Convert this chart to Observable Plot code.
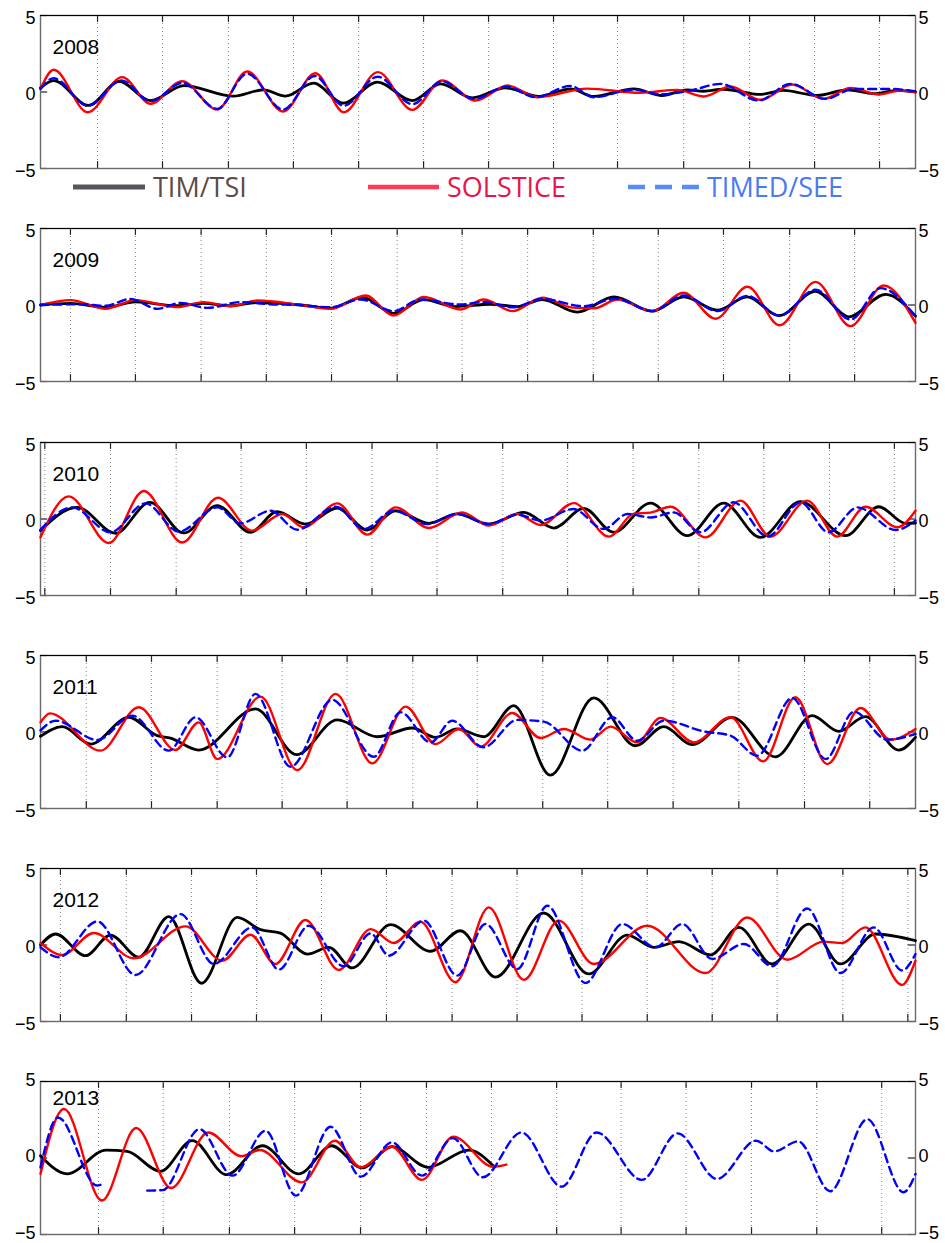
<!DOCTYPE html>
<html><head><meta charset="utf-8">
<script src="https://cdn.jsdelivr.net/npm/d3@7"></script>
<script src="https://cdn.jsdelivr.net/npm/@observablehq/plot@0.6"></script>
<style>
body{margin:0;background:#fff;}
#wrap{position:relative;width:945px;height:1243px;overflow:hidden;background:#fff;}
.panel{position:absolute;left:0;}
#legend{position:absolute;left:0;top:160px;}
</style></head><body><div id="wrap"></div>
<script>
// ---- data: x = day of year, y = filtered irradiance anomaly ----
const years = [2008, 2009, 2010, 2011, 2012, 2013];
const yTicks = [-5, 0, 5];
const yTickLabels = ["\u22125", "0", "5"];
const seriesNames = ["TIM/TSI", "SOLSTICE", "TIMED/SEE"];

// Carrington-rotation grid lines (day of year)
const ticks2008 = [23.8,50.9,78.4,105.5,132.7,159.8,186.9,214.0,240.7,268.3,295.8,322.9,350.0];
const ticks2009 = [12.5,39.6,67.0,94.2,121.4,148.8,175.9,203.2,230.6,257.7,284.9,312.5,339.6];
const ticks2010 = [1.8,29.2,56.6,83.7,110.9,138.3,165.4,192.8,219.9,247.2,274.6,301.7,329.1,356.2];
const ticks2011 = [19.1,46.3,73.7,100.8,127.9,155.3,182.2,209.5,236.6,263.9,291.3,318.7,345.9];
const ticks2012 = [8.3,35.8,63.0,90.1,117.2,144.3,171.7,198.8,225.9,253.1,280.2,307.3,334.7,361.8];
const ticks2013 = [24.2,51.2,78.8,106.0,133.5,161.0,188.1,215.3,242.2,269.3,296.6,323.8,350.9];

const tsi2008 = [[0,0.27],[5.4,0.75],[20.1,-0.88],[32.7,0.69],[45.9,-0.56],[59.8,0.42],[80.5,-0.27],[93,0.14],[102.2,-0.27],[113.9,0.58],[126.3,-0.73],[140.5,0.64],[155.1,-0.56],[166.9,0.53],[180.1,-0.38],[194,0.27],[207.9,-0.29],[221.1,0.2],[230.8,-0.29],[247.5,0.2],[259.3,-0.23],[269.8,0.14],[276.6,0.05],[284.9,0.18],[300.3,-0.16],[309.9,0.1],[324,-0.23],[336.5,0.14],[347.5,-0.1],[357.4,0.1],[365,0]];
const sol2008 = [[0,0.2],[5.5,1.45],[19.7,-1.32],[34.1,0.97],[45.9,-0.77],[59.1,0.7],[73.7,-1.14],[86.2,1.34],[101.2,-1.27],[114.7,1.23],[126.5,-1.32],[140.7,1.3],[155.1,-1.17],[167.6,0.75],[181.5,-0.56],[194.9,0.42],[207.2,-0.34],[228.1,0.22],[250.3,-0.05],[265.6,0.14],[276.7,-0.29],[287.8,0.36],[300.3,-0.51],[313.6,0.49],[326.7,-0.45],[337.9,0.27],[349.7,-0.16],[358.7,0.1],[365,0]];
const see2008 = [[0,0.2],[5.5,0.9],[19.7,-0.9],[33.8,0.75],[45.9,-0.6],[59.2,0.6],[73.7,-1.1],[86.2,1.2],[101.2,-1.15],[114.3,1.05],[126.5,-0.9],[140.7,1.0],[155.1,-0.8],[167.4,0.7],[180.8,-0.45],[194.4,0.35],[206.5,-0.34],[221.1,0.4],[230.7,-0.34],[247.4,0.15],[258.6,-0.15],[271.1,0.1],[283.7,0.53],[299.5,-0.56],[312.9,0.53],[327.5,-0.45],[339.1,0.2],[354.6,0.2],[365,0.05]];

const tsi2009 = [[0,0],[12.5,0.1],[27.1,-0.15],[39.6,0.2],[56.7,-0.05],[68,0.1],[79.3,-0.05],[90.1,0.15],[108.5,0],[121,-0.2],[134.3,0.5],[147.3,-0.55],[159.8,0.35],[173.1,-0.1],[187.7,0.05],[199,-0.1],[209.3,0.36],[223.9,-0.47],[239.2,0.53],[255.1,-0.4],[268.3,0.53],[282.3,-0.34],[294.8,0.53],[308,-0.69],[323.3,0.9],[337.2,-0.77],[352.5,0.69],[365,-0.73]];
const sol2009 = [[0,0],[12.5,0.32],[27.1,-0.25],[39.6,0.32],[57,-0.14],[68,0.19],[79.3,-0.08],[90.4,0.29],[108.5,0],[121,-0.25],[135.6,0.62],[147.3,-0.69],[159.9,0.53],[175.2,-0.29],[184.8,0.36],[196.9,-0.4],[209.4,0.47],[222,-0.17],[231,-0.21],[240.7,0.36],[255.3,-0.4],[268.2,0.8],[281.6,-0.9],[294.9,1.19],[308.3,-1.32],[323.3,1.51],[337.9,-1.38],[351.7,1.27],[365,-1.17]];
const see2009 = [[0,0],[16.7,0.05],[27.1,-0.05],[37.5,0.4],[48.8,-0.25],[58.4,0.14],[69.7,-0.19],[83.4,0.19],[95.9,0.05],[108.5,0],[121,-0.15],[133.5,0.36],[147.3,-0.4],[158.5,0.36],[175.2,0.03],[184.8,0.2],[196.9,-0.15],[209.4,0.4],[226.5,-0.08],[239.9,0.4],[255.3,-0.4],[268.2,0.62],[282.4,-0.4],[294.9,0.6],[308.3,-0.7],[323.3,1.0],[337.9,-0.95],[350.4,1.1],[365,-0.75]];

const tsi2010 = [[0,-0.76],[15.3,0.76],[31.3,-0.93],[45.6,1.09],[59.8,-0.91],[73.7,0.87],[87.6,-0.87],[98.7,0.48],[110.5,-0.33],[123.8,0.72],[136.3,-0.72],[148.1,0.54],[162,-0.28],[173.8,0.33],[187,-0.33],[201.6,0.43],[214.1,-0.59],[226.6,0.7],[239.1,-0.87],[254.5,1.04],[269.8,-1.09],[285,1.04],[300.3,-1.2],[317,1.13],[335.8,-1.09],[349.7,0.8],[360.8,-0.28],[365,-0.26]];
const sol2010 = [[0,-1.2],[11.8,1.48],[28.5,-1.57],[43.1,1.83],[59.1,-1.54],[74,1.39],[88.3,-0.76],[100.8,0.33],[109.8,-0.54],[123.8,1.02],[136.3,-1.02],[148.1,0.76],[162,-0.59],[175.9,0.43],[187,-0.43],[198.9,0.33],[208.6,-0.39],[222.5,1.04],[237.1,-1.15],[247.5,0.35],[254.5,0.42],[262.8,0.8],[277.4,-1.2],[292,1.2],[304.5,-1.15],[319.8,1.2],[332.3,-1.15],[344.1,0.8],[357.4,-0.54],[365,0.54]];
const see2010 = [[0,-0.7],[13.2,0.76],[29.2,-0.87],[43.8,1.02],[57.7,-0.83],[73.7,0.76],[83.4,-0.28],[95.9,0.54],[107.1,-0.7],[123.1,0.8],[134.9,-0.65],[147.4,0.54],[161.3,-0.33],[173.8,0.33],[187,-0.33],[198.9,0.28],[208.6,-0.1],[222.3,0.65],[234.9,-0.65],[244.9,0.33],[254.5,0.1],[264.1,0.43],[275.3,-0.87],[289.1,1.09],[303.3,-1.15],[317,1.09],[328.7,-0.87],[340.8,0.76],[356.7,-0.72],[365,-0.1]];

const tsi2011 = [[0,-0.28],[9.1,0.35],[20.9,-0.79],[36.8,0.96],[48.7,-0.24],[54.2,-0.4],[66,-1.18],[89.7,1.51],[106.8,-1.48],[123.8,0.79],[140.5,-0.31],[155.1,0.26],[164.8,-0.35],[173.8,0.2],[184.9,-0.31],[197.4,1.72],[212.7,-2.82],[230.8,2.23],[248.2,-0.9],[260,0.35],[271.8,-0.83],[288.5,0.96],[306.6,-1.62],[321.9,1.07],[333,0.04],[344.1,1.0],[358,-1.18],[365,-0.35]];
const sol2011 = [[0,0.63],[3.9,1.22],[25,-1.22],[41,1.62],[56.3,-1.18],[66,0.63],[73.7,-1.77],[91.8,2.31],[107.1,-2.49],[123.1,2.49],[138.4,-2.05],[152.3,1.66],[164.8,-0.79],[174.5,0.2],[183.5,-0.96],[196.8,1.24],[208.6,-0.39],[218.3,0.2],[229.4,-0.5],[237.8,0.35],[248.9,-0.68],[258.6,0.92],[272.5,-0.68],[287.8,0.96],[301.5,-1.92],[314.9,2.27],[328.2,-2.1],[342.1,1.57],[354.6,-0.5],[365,0.2]];
const see2011 = [[0,0.1],[6.3,0.74],[23.7,-0.52],[38.3,1.07],[53.5,-1.22],[64.7,0.96],[77.9,-1.66],[89.7,2.49],[104.3,-2.27],[121.7,2.1],[139,-1.62],[150.2,1.29],[162.7,-0.68],[171.7,0.74],[184.8,-1.0],[198.9,0.79],[209.9,0.68],[226,-1.22],[238.5,0.96],[248.9,-0.57],[260,0.74],[276.6,0.04],[287.8,-0.24],[299,-1.55],[313.6,2.23],[327.5,-1.77],[339.3,1.33],[353.2,-0.5],[365,-0.13]];

const tsi2012 = [[0,0],[6.3,0.72],[18.8,-0.7],[29.2,0.65],[41,-0.8],[53.5,1.85],[67.2,-2.5],[82.1,1.8],[91.8,1.0],[100.1,0.78],[111.3,-0.59],[120.3,-0.15],[130,-1.5],[146,1.33],[162.7,-0.41],[175.2,0.93],[189.8,-2.1],[209.9,2.09],[228.7,-1.89],[244.7,0.65],[255.8,-0.15],[266.3,0.22],[279.5,-0.65],[291.3,1.15],[305.2,-1.24],[320.5,1.37],[333.7,-1.24],[348.3,0.72],[365,0.28]];
const sol2012 = [[0,0.13],[9.1,-0.65],[22.2,0.78],[38.9,-0.87],[60.5,1.22],[75.8,-1.02],[87.6,0.67],[98,-1.24],[110.5,1.63],[124.4,-1.63],[137.7,1.04],[147.4,0.13],[158.5,1.52],[173.1,-2.43],[187,2.46],[201.6,-2.28],[216.2,1.59],[230.8,-1.24],[253.1,1.26],[277.4,-1.83],[294.8,1.8],[311.5,-0.96],[326.7,0.22],[334.4,0.13],[344.1,1.15],[359.4,-2.61],[365,-1.02]];
const see2012 = [[0,-0.15],[7.6,-0.8],[23.7,1.54],[39.6,-1.96],[58.4,2.02],[72.3,-1.24],[88.3,1.15],[99.4,-1.61],[111.9,1.26],[126.5,-1.39],[137.7,0.76],[145.3,-0.7],[159.9,1.59],[173.8,-2.0],[185.6,1.37],[198.9,-1.57],[211.4,2.57],[227.3,-2.48],[242.7,1.37],[256.5,-0.15],[267.7,1.37],[280.2,-0.91],[293.4,0.07],[305.2,-1.39],[319.8,2.39],[333.7,-1.83],[347.6,1.15],[359.4,-1.67],[365,-0.59]];

const tsi2013 = [[0,0.15],[11.1,-1.04],[27.4,0.52],[36.2,0.43],[50,-0.87],[63.3,1.13],[77.6,-1.09],[92.6,0.8],[107.7,-1.04],[121.5,0.8],[134.1,-0.65],[146.6,0.74],[161.7,-0.61],[178.7,0.52],[189.3,-0.57]];
const sol2013 = [[0,-1.04],[9.8,3.2],[25.6,-2.78],[39.9,1.96],[54.5,-1.96],[70,1.67],[83.8,0.11],[91.4,0.52],[109,-1.59],[122.8,1.13],[133.6,-0.61],[146.6,0.74],[159.1,-1.43],[172.2,1.39],[188.8,-0.57],[194.3,-0.43]];
const see2013 = [[0,-0.61],[7.3,2.65],[23.6,-1.8],[25,-1.75],[35,null],[44.5,-2.13],[51,-2.1],[66.3,1.89],[80.1,-1.15],[93.9,1.78],[106.5,-2.46],[121,2.04],[133.6,-1.22],[146.6,1.02],[159.1,-1.15],[172,1.3],[184.5,-1.26],[200.6,1.67],[217.4,-1.87],[232,1.67],[250.8,-1.43],[265.8,1.61],[282.2,-1.37],[298.5,1.13],[306,0.43],[316.1,1.09],[329.4,-2.17],[344.9,2.54],[360,-2.24],[365,-1.04]];

const tsiByYear = [tsi2008, tsi2009, tsi2010, tsi2011, tsi2012, tsi2013];
const solByYear = [sol2008, sol2009, sol2010, sol2011, sol2012, sol2013];
const seeByYear = [see2008, see2009, see2010, see2011, see2012, see2013];
const ticksByYear = [ticks2008, ticks2009, ticks2010, ticks2011, ticks2012, ticks2013];

// ---- layout ----
const wrap = document.getElementById("wrap");
const panelTops = [0, 213, 427, 640, 853, 1066];
const labelDy = [24, 24, 23.5, 24, 23.5, 9];
const font = "'Liberation Sans', Arial, Helvetica, sans-serif";
const toRows = arr => arr.map(([day, v]) => ({day, v: v == null ? NaN : v}));
const fmt = d => yTickLabels[yTicks.indexOf(d)];

years.forEach((year, i) => {
  const ticks = ticksByYear[i];
  const last = i === years.length - 1;
  const ady = last ? -1.5 : 2.5;
  const chart = Plot.plot({
    width: 945,
    height: last ? 177 : 213,
    marginLeft: 40, marginRight: 30, marginTop: 15, marginBottom: last ? 9 : 45,
    style: {fontFamily: font, background: "transparent", overflow: "visible"},
    x: {domain: [0, 365], axis: null},
    y: {domain: [-5, 5]},
    marks: [
      Plot.ruleX(ticks, {stroke: "#555", strokeWidth: 1, strokeDasharray: "1,3", strokeOpacity: 0.7}),
      Plot.ruleX(ticks, {y1: -5, y2: -4.55, stroke: "#222", strokeWidth: 1.2}),
      Plot.ruleX(ticks, {y1: 5, y2: 4.55, stroke: "#222", strokeWidth: 1.2}),
      Plot.ruleY(yTicks, {x1: 0, x2: 3, stroke: "#222", strokeWidth: 1.2}),
      Plot.ruleY(yTicks, {x1: 362, x2: 365, stroke: "#222", strokeWidth: 1.2}),
      Plot.frame({stroke: "#6a6a6a", strokeWidth: 1.4}),
      Plot.ruleY([5], {stroke: "#000", strokeWidth: 1.2}),
      Plot.axisY(yTicks, {anchor: "left", label: null, tickSize: 0, tickPadding: 5, dy: ady, fontSize: 18, fill: "#000", tickFormat: fmt}),
      Plot.axisY(yTicks, {anchor: "right", label: null, tickSize: 0, tickPadding: 3, dy: ady, fontSize: 18, fill: "#000", tickFormat: fmt}),
      Plot.line(toRows(tsiByYear[i]), {x: "day", y: "v", curve: "monotone-x", stroke: "#000", strokeWidth: 2.8}),
      Plot.line(toRows(solByYear[i]), {x: "day", y: "v", curve: "monotone-x", stroke: "#ff0000", strokeWidth: 2.4}),
      Plot.line(toRows(seeByYear[i]), {x: "day", y: "v", curve: "monotone-x", stroke: "#0000ff", strokeWidth: 2.4, strokeDasharray: "8,5"}),
      Plot.text([String(year)], {frameAnchor: "top-left", dx: 12, dy: labelDy[i], lineAnchor: "top", textAnchor: "start", fontSize: 21, fill: "#000"})
    ]
  });
  const div = document.createElement("div");
  div.className = "panel";
  div.style.top = panelTops[i] + "px";
  div.appendChild(chart);
  wrap.appendChild(div);
});

// ---- legend (between the first and second panels) ----
const legendItems = [
  {name: seriesNames[0], x1: 73, x2: 145, tx: 153, line: "#56565f", text: "#5b4c44", w: 5, dash: null},
  {name: seriesNames[1], x1: 368, x2: 439, tx: 447, line: "#ff3a55", text: "#e8154b", w: 4.5, dash: null},
  {name: seriesNames[2], x1: 628, x2: 700, tx: 707, line: "#5a8cf7", text: "#4a7af2", w: 4.5, dash: "17 10"}
];
const ns = "http://www.w3.org/2000/svg";
const lg = document.createElementNS(ns, "svg");
lg.setAttribute("id", "legend");
lg.setAttribute("width", 945); lg.setAttribute("height", 50);
legendItems.forEach(it => {
  const l = document.createElementNS(ns, "line");
  l.setAttribute("x1", it.x1); l.setAttribute("x2", it.x2);
  l.setAttribute("y1", 27); l.setAttribute("y2", 27);
  l.setAttribute("stroke", it.line); l.setAttribute("stroke-width", it.w);
  if (it.dash) l.setAttribute("stroke-dasharray", it.dash);
  lg.appendChild(l);
  const t = document.createElementNS(ns, "text");
  t.setAttribute("x", it.tx); t.setAttribute("y", 37);
  t.setAttribute("fill", it.text);
  t.setAttribute("font-family", "'Open Sans', 'Noto Sans', sans-serif");
  t.setAttribute("font-size", 27);
  t.textContent = it.name;
  lg.appendChild(t);
});
wrap.appendChild(lg);
</script>
</body></html>
